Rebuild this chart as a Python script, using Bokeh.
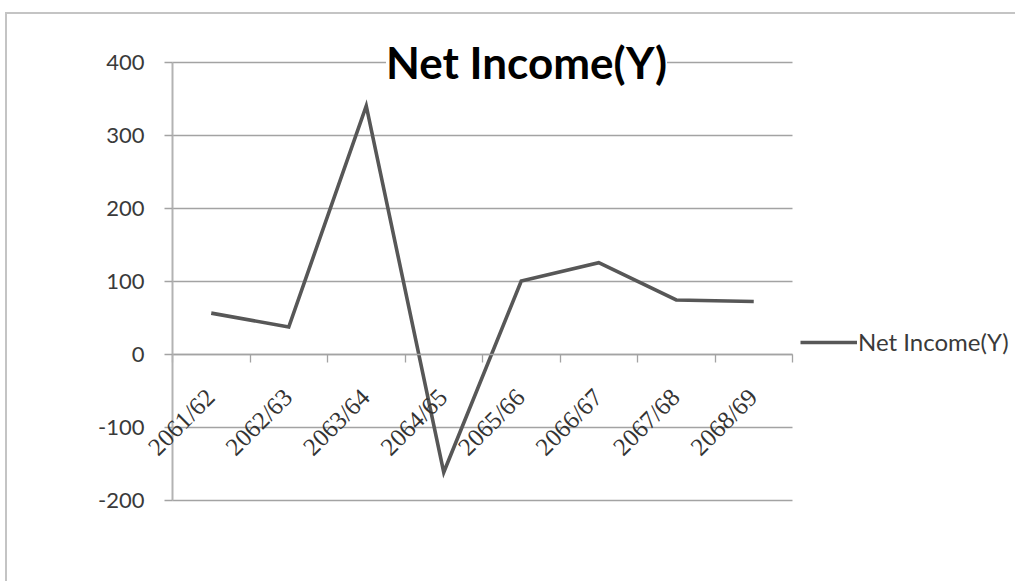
import math
from bokeh.plotting import figure
from bokeh.models import (Range1d, FixedTicker, LabelSet, Label, ColumnDataSource,
                          Legend, LegendItem)
from bokeh.embed import file_html
from bokeh.resources import INLINE

# ---- data ----
categories = ["2061/62", "2062/63", "2063/64", "2064/65",
              "2065/66", "2066/67", "2067/68", "2068/69"]
net_income = [56, 37, 340, -162, 100, 125, 74, 72]
y_ticks = [-200, -100, 0, 100, 200, 300, 400]
y_tick_labels = ["-200", "-100", "0", "100", "200", "300", "400"]
series_name = "Net Income(Y)"
chart_title = "Net Income(Y)"

positions = [i + 0.5 for i in range(len(categories))]
boundaries = list(range(len(categories) + 1))

FONT = "Lato"

# ---- layout (page pixels) ----
OFF_X, OFF_Y = 7, 14            # canvas origin on the page
W, H = 1010, 583 - OFF_Y
ML, MB = 85, 30                 # borders around the frame
FL, FR = OFF_X + ML, OFF_X + W  # frame left / right on page
FT, FB = OFF_Y, OFF_Y + H - MB  # frame top / bottom on page
AX_X0, PX_PER_CAT = 172.0, 77.5     # page x of first category boundary, width per category
AX_Y0, PX_PER_UNIT = 353.5, 0.73    # page y of value 0, pixels per unit

x_start = (FL - AX_X0) / PX_PER_CAT
x_end = (FR - AX_X0) / PX_PER_CAT
y_end = (AX_Y0 - FT) / PX_PER_UNIT
y_start = (AX_Y0 - FB) / PX_PER_UNIT

p = figure(width=W, height=H,
           x_range=Range1d(x_start, x_end),
           y_range=Range1d(y_start, y_end),
           output_backend="svg", toolbar_location=None,
           min_border_left=ML, min_border_right=0,
           min_border_top=0, min_border_bottom=MB)
p.styles = {"margin-left": "7px", "margin-top": "14px",
            "box-shadow": "-2px -2px 0px 0px #c4c4c4"}
p.outline_line_color = None
p.background_fill_color = "white"
p.border_fill_color = "white"

# grid (limited to the plot area between the first and last category boundary)
p.xgrid.visible = False
try:
    p.ygrid.cross_bounds = (0, len(categories))
    p.ygrid.ticker = FixedTicker(ticks=y_ticks)
    p.ygrid.grid_line_color = "#a3a3a3"
    p.ygrid.grid_line_width = 1.3
except Exception:
    p.ygrid.visible = False
    p.segment(x0=0, x1=len(categories), y0=y_ticks, y1=y_ticks,
              line_color="#a3a3a3", line_width=1.3, level="underlay")

# y axis (at the first category boundary)
yax = p.yaxis[0]
yax.ticker = FixedTicker(ticks=y_ticks)
yax.fixed_location = 0
yax.bounds = (min(y_ticks), max(y_ticks))
yax.major_label_overrides = dict(zip(y_ticks, y_tick_labels))
yax.axis_line_color = "#b3b3b3"
yax.axis_line_width = 2
yax.major_tick_out = 8
yax.major_tick_in = 0
yax.major_tick_line_color = "#a3a3a3"
yax.major_tick_line_width = 1.3
yax.minor_tick_line_color = None
yax.major_label_text_font = FONT
yax.major_label_text_font_size = "22px"
yax.major_label_text_color = "#3a3a3a"
yax.major_label_standoff = 20

# x axis at y = 0 with ticks at category boundaries (labels drawn separately)
xax = p.xaxis[0]
xax.ticker = FixedTicker(ticks=boundaries)
xax.fixed_location = 0
xax.bounds = (0, len(categories))
xax.axis_line_color = "#a3a3a3"
xax.axis_line_width = 1.3
xax.major_tick_out = 8
xax.major_tick_in = 0
xax.major_tick_line_color = "#a3a3a3"
xax.major_tick_line_width = 1.3
xax.minor_tick_line_color = None
xax.major_label_overrides = {b: "" for b in boundaries}
xax.major_label_text_font_size = "10px"
xax.major_label_standoff = 0

# series line
src = ColumnDataSource(dict(x=positions, y=net_income))
r = p.line("x", "y", source=src, line_color="#575757", line_width=3.6,
           line_join="miter")

# category labels
lab_src = ColumnDataSource(dict(x=positions, y=[0] * len(categories), text=categories))
labels = LabelSet(x="x", y="y", text="text", source=lab_src,
                  angle=math.pi / 4, text_align="right", text_baseline="middle",
                  x_offset=-1, y_offset=-39,
                  text_font=FONT, text_font_size="25px", text_color="#333333")
p.add_layout(labels)

# title
title = Label(x=(526 - AX_X0) / PX_PER_CAT, y=(AX_Y0 - 61) / PX_PER_UNIT,
              text=chart_title, text_align="center",
              text_baseline="alphabetic", text_font=FONT, text_font_style="bold",
              text_font_size="44px", text_color="#000000",
              background_fill_color="white", padding=0)
p.add_layout(title)

# legend
legend = Legend(items=[LegendItem(label=series_name, renderers=[r])],
                location=(800 - FL, (FB - 342) - 14), orientation="vertical",
                glyph_width=57, glyph_height=20, label_standoff=1,
                padding=0, margin=0, spacing=0,
                border_line_color=None, background_fill_alpha=0,
                label_text_font=FONT, label_text_font_size="24px",
                label_text_color="#3a3a3a", label_height=20)
p.add_layout(legend)

open("out.html", "w").write(file_html(p, INLINE))
